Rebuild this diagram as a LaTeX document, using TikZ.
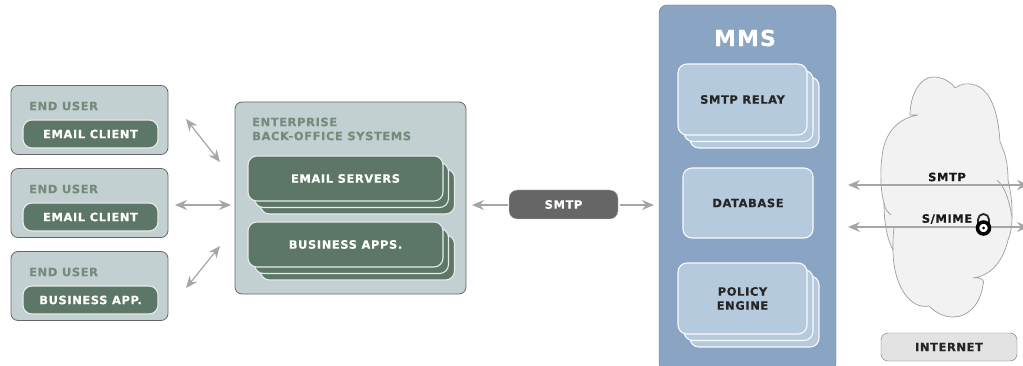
\documentclass[tikz,border=0pt]{standalone}
\usepackage{fontspec}
\setmainfont[LetterSpace=5,BoldFeatures={FakeBold=0.3}]{DejaVu Sans}
\usepackage{xcolor}
\usetikzlibrary{arrows.meta}
\definecolor{slate}{HTML}{C3D0D1}
\definecolor{moss}{HTML}{5C7767}
\definecolor{mmsblue}{HTML}{8AA5C4}
\definecolor{paleblue}{HTML}{B5CADD}

\begin{document}
\begin{tikzpicture}[x=1pt,y=-1pt,
txt/.style={font=\fontsize{11.5}{14}\selectfont\bfseries},
panel/.style={draw=black!60,fill=slate,rounded corners=7pt,line width=.8pt,inner sep=0pt},
greenbox/.style={draw=white!85!moss,fill=moss,rounded corners=9pt,line width=1.1pt,inner sep=0pt,text=white,txt},
bluebox/.style={draw=white!90!paleblue,fill=paleblue,rounded corners=9pt,line width=1.1pt,inner sep=0pt,text=black!85,txt,align=center},
link/.style={draw=black!35,line width=1.2pt,{Stealth[length=12pt,width=10pt,inset=4pt]}-{Stealth[length=12pt,width=10pt,inset=4pt]}},
oneway/.style={draw=black!35,line width=1.2pt,-{Stealth[length=12pt,width=10pt,inset=4pt]}}]
\useasboundingbox (0,0) rectangle (1023,366);

% end users
\foreach \name/\ypos/\what in {usera/120/EMAIL CLIENT,userb/203/EMAIL CLIENT,userc/286/BUSINESS APP.} {
\node (\name) [panel,minimum width=157pt,minimum height=69pt] at (89.5,\ypos) {};
\node (\name label) [anchor=west,txt,text=moss!85!white,inner sep=0pt] at (29,\ypos-14) {END USER};
\node (\name app) [greenbox,minimum width=135pt,minimum height=28pt] at (90.5,\ypos+14) {\what};
}

% back office
\node (office) [panel,minimum width=231pt,minimum height=192pt] at (350.5,198) {};
\node (officelabel) [anchor=west,txt,text=moss!85!white,inner sep=0pt,align=left] at (252,129) {ENTERPRISE\\BACK-OFFICE SYSTEMS};
\node (mailc) [greenbox,minimum width=194pt,minimum height=45pt] at (357.5,191.5) {};
\node (mailb) [greenbox,minimum width=194pt,minimum height=45pt] at (351.5,185) {};
\node (maila) [greenbox,minimum width=195pt,minimum height=45pt] at (345.5,178.5) {EMAIL SERVERS};
\node (appsc) [greenbox,minimum width=194pt,minimum height=45pt] at (357.5,257.5) {};
\node (appsb) [greenbox,minimum width=194pt,minimum height=45pt] at (351.5,251) {};
\node (appsa) [greenbox,minimum width=195pt,minimum height=45pt] at (345.5,244.5) {BUSINESS APPS.};

% smtp in the middle
\node (smtp) [draw=black!20,fill=black!60,rounded corners=8pt,minimum width=109pt,minimum height=29pt,inner sep=0pt,text=white,txt] at (563.5,204.5) {SMTP};

% mms
\node (mms) [draw=black!55,fill=mmsblue,rounded corners=8pt,minimum width=177pt,minimum height=366pt,inner sep=0pt] at (747.5,188) {};
\node (mmstitle) [text=white,font=\fontsize{22}{26}\selectfont\bfseries,inner sep=0pt] at (745,38) {MMS};
\node (relayc) [bluebox,minimum width=129pt,minimum height=71pt] at (754.5,112.5) {};
\node (relayb) [bluebox,minimum width=129pt,minimum height=71pt] at (748.5,106) {};
\node (relaya) [bluebox,minimum width=129pt,minimum height=71pt] at (742.5,99.5) {\raisebox{-2.5pt}{SMTP RELAY}};
\node (database) [bluebox,minimum width=130pt,minimum height=70pt] at (748,203) {DATABASE};
\node (policyc) [bluebox,minimum width=129pt,minimum height=71pt] at (754.5,311.5) {};
\node (policyb) [bluebox,minimum width=129pt,minimum height=71pt] at (748.5,305) {};
\node (policya) [bluebox,minimum width=129pt,minimum height=71pt] at (742.5,298.5) {POLICY\\ENGINE};

% cloud
\draw [draw=black!38,fill=black!5,line width=.7pt] (910,115)
  .. controls (910,95) and (920,77) .. (933,77)
  .. controls (943,77) and (951,82) .. (955,88)
  .. controls (962,83) and (970,83) .. (975,85)
  .. controls (990,90) and (998,110) .. (1000,142)
  .. controls (1006,155) and (1008,165) .. (1008,180)
  .. controls (1014,205) and (1013,230) .. (1008,240)
  .. controls (1003,262) and (990,276) .. (973,278)
  .. controls (982,277) and (985,280) .. (983,285)
  .. controls (980,305) and (968,317) .. (953,317)
  .. controls (943,317) and (935,312) .. (929,306)
  .. controls (910,310) and (893,285) .. (893,250)
  .. controls (885,235) and (884,215) .. (884,203)
  .. controls (880,190) and (880,165) .. (883,150)
  .. controls (887,130) and (900,118) .. (918,115) -- cycle;
\draw [draw=black!38,line width=.7pt] (997,180) .. controls (1004,187) and (1008,195) .. (1012,217);
\draw [draw=black!38,line width=.7pt] (884,203) .. controls (885,210) and (888,212) .. (891,215);
\draw [draw=black!38,line width=.7pt] (894,228) .. controls (893,235) and (893,243) .. (893,250);

% arrow ends
\coordinate (ua) at (186,119);
\coordinate (ob) at (220,162);
\coordinate (ub) at (175,205);
\coordinate (oc) at (231,205);
\coordinate (uc) at (186,288);
\coordinate (od) at (220,246);
\coordinate (oe) at (472,205);
\coordinate (sl) at (508,205);
\coordinate (sr) at (620,205);
\coordinate (mm) at (654,205);
\coordinate (cla) at (848,185);
\coordinate (cra) at (1029,185);
\coordinate (clb) at (848,227);
\coordinate (crb) at (1029,227);
\draw [link] (ua) -- (ob);
\draw [link] (ub) -- (oc);
\draw [link] (uc) -- (od);
\draw [oneway] (sl) -- (oe);
\draw [oneway] (sr) -- (mm);
\draw [link] (cla) -- (cra);
\draw [link] (clb) -- (crb);

\node (cloudsmtp) [txt,text=black!90,inner sep=0pt] at (947,177) {SMTP};
\node (cloudmime) [txt,text=black!90,inner sep=0pt] at (947,219) {S/MIME};
% lock
\draw [draw=black!85,line width=1.8pt] (978,228) -- (978,219.5) arc (180:360:5.5) -- (989,228);
\node (lock) [circle,draw=black,fill=white,line width=3.5pt,minimum size=12pt,inner sep=0pt] at (983.5,228) {};
\node (lockhole) [circle,fill=black,minimum size=3pt,inner sep=0pt] at (lock) {};

\node (internet) [draw=black!55,fill=black!11,rounded corners=7pt,minimum width=136pt,minimum height=28pt,inner sep=0pt,txt,text=black!85] at (949,347) {INTERNET};
\end{tikzpicture}
\end{document}
